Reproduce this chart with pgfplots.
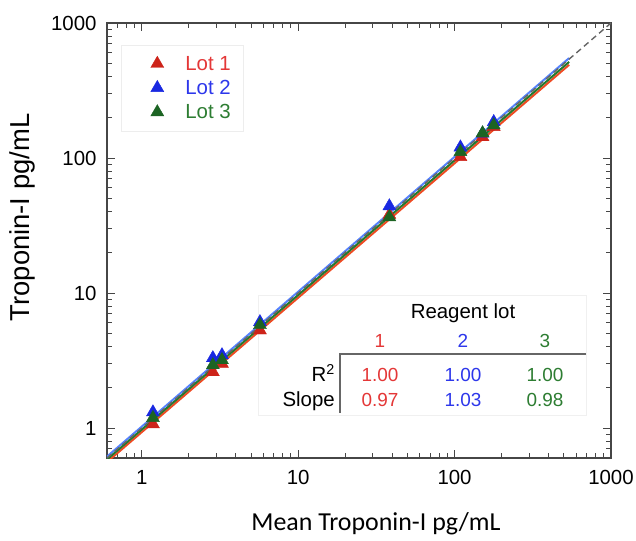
\documentclass[border=0pt]{standalone}
\usepackage{pgfplots}
\pgfplotsset{compat=1.18}
\usepackage{fontspec}
\setmainfont{Liberation Sans}
\newfontfamily\carlito{Carlito}
\definecolor{mred}{RGB}{205,35,25}
\definecolor{mblue}{RGB}{25,40,225}
\definecolor{mgreen}{RGB}{28,100,35}
\definecolor{tred}{RGB}{228,55,55}
\definecolor{tblue}{RGB}{45,55,235}
\definecolor{tgreen}{RGB}{45,125,50}
\definecolor{lred}{RGB}{238,75,35}
\definecolor{lblue}{RGB}{85,130,255}
\definecolor{lgreen}{RGB}{35,120,45}
\definecolor{frame}{RGB}{70,70,70}
\pgfplotsset{lotmark/.style={draw=none, mark=triangle*, mark size=7.5bp,
  mark options={draw=#1, fill=#1, solid}}}
\begin{document}
\begin{tikzpicture}
\begin{axis}[
  at={(107bp,83bp)}, anchor=south west,
  scale only axis, width=504bp, height=435bp,
  xmode=log, ymode=log,
  xmin=0.6, xmax=1000, ymin=0.6, ymax=1000,
  xtick={1,10,100,1000}, xticklabels={1,10,100,1000},
  ytick={1,10,100,1000}, yticklabels={1,10,100,1000},
  minor xtick={0.6,0.7,0.8,0.9,2,3,4,5,6,7,8,9,20,30,40,50,60,70,80,90,200,300,400,500,600,700,800,900},
  minor ytick={0.6,0.7,0.8,0.9,2,3,4,5,6,7,8,9,20,30,40,50,60,70,80,90,200,300,400,500,600,700,800,900},
  major tick length=8bp, minor tick length=5bp,
  tick style={frame, line width=1bp},
  axis line style={frame, line width=1.5bp},
  tick label style={font=\fontsize{20.5}{24}\selectfont},
  /pgf/number format/assume math mode=true,
  xticklabel style={yshift=-9bp},
  yticklabel style={xshift=-7bp},
  legend style={at={(axis description cs:0.028,0.95)}, anchor=north west,
    draw=black!7, fill=white, inner xsep=9bp, inner ysep=8bp, row sep=2.5bp,
    font=\fontsize{20.5}{24}\selectfont, nodes={inner sep=3bp}},
  legend cell align=left,
  legend image code/.code={\path[mark repeat=2,mark phase=2,#1] plot coordinates {(0bp,0bp) (27bp,0bp) (52bp,0bp)};},
]
% faint inset box (behind the lines)
\draw[black!6, fill=white] (rel axis cs:0.2996,0.0989) rectangle (rel axis cs:0.950,0.3747);
% fitted lines
\addplot[lred, line width=2bp, forget plot] coordinates {(0.6,0.56) (540,490)};
\addplot[lblue, line width=2bp, forget plot] coordinates {(0.6,0.615) (540,550)};
\addplot[lgreen, line width=2bp, forget plot] coordinates {(0.6,0.585) (540,515)};
\addplot[black!60, line width=1.4bp, dash pattern=on 6bp off 4bp, forget plot] coordinates {(0.6,0.6) (1000,1000)};
% data
\addplot[lotmark=mred] coordinates {
(1.18,1.07) (2.85,2.6) (3.26,3.0) (5.7,5.3) (38.3,38) (109,102) (151,143) (178,170)};
\addlegendentry{\textcolor{tred}{Lot 1}}
\addplot[lotmark=mblue] coordinates {
(1.18,1.31) (2.85,3.3) (3.26,3.47) (5.7,6.1) (38.3,44) (109,120) (151,152) (178,185)};
\addlegendentry{\textcolor{tblue}{Lot 2}}
\addplot[lotmark=mgreen] coordinates {
(1.18,1.19) (2.85,2.93) (3.26,3.19) (5.7,5.8) (38.3,36.5) (109,111) (151,153) (178,175)};
\addlegendentry{\textcolor{tgreen}{Lot 3}}
\end{axis}
% inset table
\begin{scope}[every node/.style={font=\fontsize{19}{22}\selectfont, anchor=base, inner sep=0pt}]
\node[font=\fontsize{20.5}{24}\selectfont] at (463bp,222.2bp) {Reagent lot};
\node[text=tred] at (380bp,193.2bp) {1};
\node[text=tblue] at (463bp,193.2bp) {2};
\node[text=tgreen] at (545bp,193.2bp) {3};
\node[anchor=base east, font=\fontsize{20.5}{24}\selectfont] at (335bp,159.2bp) {R\textsuperscript{2}};
\node[anchor=base east, font=\fontsize{20.5}{24}\selectfont] at (335bp,134.2bp) {Slope};
\node[text=tred] at (380bp,159.2bp) {1.00};
\node[text=tblue] at (463bp,159.2bp) {1.00};
\node[text=tgreen] at (545bp,159.2bp) {1.00};
\node[text=tred] at (380bp,134.2bp) {0.97};
\node[text=tblue] at (463bp,134.2bp) {1.03};
\node[text=tgreen] at (545bp,134.2bp) {0.98};
\end{scope}
\draw[black!60, line width=1.3bp] (586bp,187bp) -- (340bp,187bp) -- (340bp,128bp);
% axis labels
\node[rotate=90, font=\fontsize{27.5}{32}\selectfont] at (22.5bp,323.5bp) {Troponin-I pg/mL};
\node[font=\carlito\fontsize{26}{30}\selectfont] at (376bp,17bp) {Mean Troponin-I pg/mL};
\pgfresetboundingbox
\path[use as bounding box] (0bp,0bp) rectangle (636bp,541bp);
\end{tikzpicture}
\end{document}
